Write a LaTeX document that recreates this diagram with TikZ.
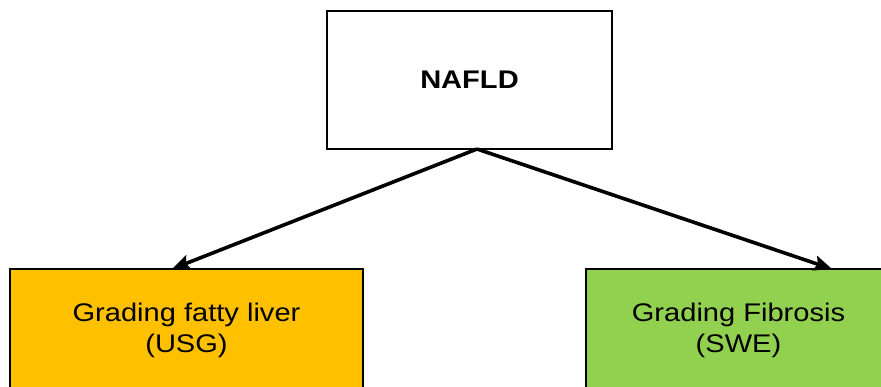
\documentclass[tikz,border=0pt]{standalone}
\usepackage{fontspec}
\setmainfont{Liberation Sans}[FakeStretch=1.14]
\usetikzlibrary{arrows.meta}
\definecolor{boxorange}{HTML}{FFC000}
\definecolor{boxgreen}{HTML}{92D050}
\tikzset{
  every node/.style={font=\fontsize{25.5}{31}\selectfont, align=center, outer sep=0pt, inner sep=0pt},
  topbox/.style={draw=black, line width=2.8pt, fill=white, minimum width=285pt, minimum height=138pt},
  leafbox/.style={draw=black, line width=2.8pt, minimum height=123pt},
  link/.style={line width=3.6pt, -{Stealth[length=18pt, width=15pt, inset=3pt]}}
}
\begin{document}
\begin{tikzpicture}[x=1pt, y=-1pt]
  \useasboundingbox (0,0) rectangle (881,387);
  \clip (0,0) rectangle (881,387);
  \fill[white] (0,0) rectangle (881,387);

  \node[topbox] (nafld) at (469.5,80) {\textbf{NAFLD}};
  \node[leafbox, fill=boxorange, minimum width=353pt] (fatty) at (186.5,330.5)
    {Grading fatty liver\\(USG)};
  \node[leafbox, fill=boxgreen, minimum width=305pt] (fibro) at (738.5,330.5)
    {Grading Fibrosis\\(SWE)};

  \draw[link] ([xshift=7.5pt]nafld.south) -- ([xshift=-14.5pt]fatty.north);
  \draw[link] ([xshift=7.5pt]nafld.south) -- ([xshift=93.5pt]fibro.north);
\end{tikzpicture}
\end{document}
